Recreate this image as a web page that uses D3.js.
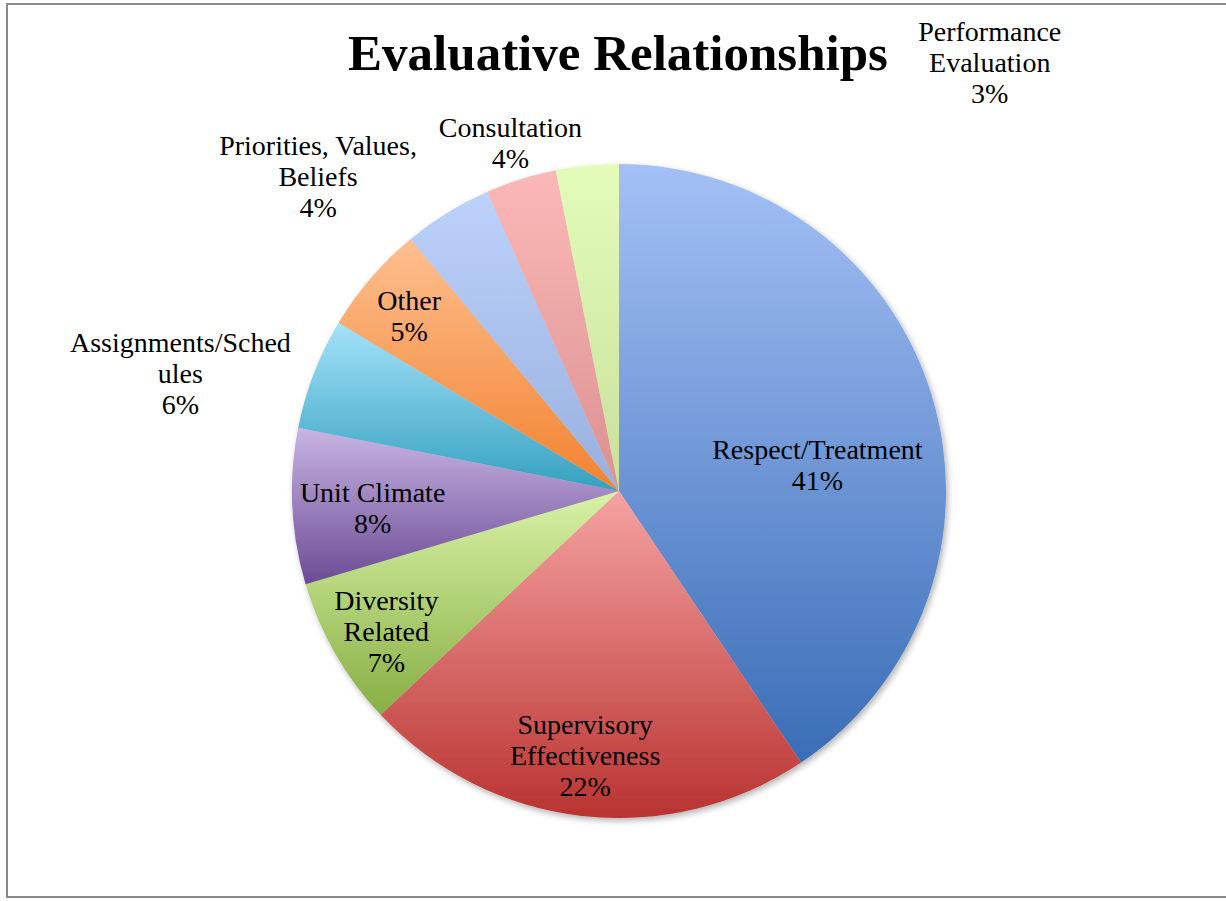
<!DOCTYPE html>
<html>
<head>
<meta charset="utf-8">
<script src="https://cdn.jsdelivr.net/npm/d3@7"></script>
<style>
  html, body { margin: 0; padding: 0; background: #ffffff; }
  svg { display: block; }
</style>
</head>
<body>
<svg id="chart" width="1226" height="901"></svg>
<script>
// Share of evaluative-relationship concerns, clockwise from 12 o'clock
const categories = [
  "Respect/Treatment", "Supervisory Effectiveness", "Diversity Related",
  "Unit Climate", "Assignments/Schedules", "Other",
  "Priorities, Values, Beliefs", "Consultation", "Performance Evaluation"
];
const values = [40.6, 22.4, 7.4, 7.7, 5.5, 5.4, 4.4, 3.5, 3.1];

// Label text as wrapped in the chart
const labelLines = [
  ["Respect/Treatment"], ["Supervisory", "Effectiveness"], ["Diversity", "Related"],
  ["Unit Climate"], ["Assignments/Sched", "ules"], ["Other"],
  ["Priorities, Values,", "Beliefs"], ["Consultation"], ["Performance", "Evaluation"]
];

// Slice gradients: light top colour, dark bottom colour
const topColors = ["#a4c0f6", "#f5a3a2", "#d8f2a6", "#c9b5e4", "#a4e2fa", "#fdbf90", "#bcd2fb", "#fbb8b8", "#e4fcb9"];
const bottomColors = ["#3a6db6", "#b93331", "#88ae44", "#6b4b94", "#34a0bf", "#f2822e", "#98b0de", "#dc9090", "#c8e09c"];

// Label placement around each slice: [distance from centre, angle offset in degrees]
const labelPolar = [[200, 9.6], [267, 0.8], [272, -1.3], [247, -1.3], [454, -6.1], [273, -0.9], [435, -12.1], [364, 0.1], [566, 46.5]];

const svg = d3.select("#chart");
const cx = 619, cy = 491, radius = 327;
const fontFamily = "'Liberation Serif', 'Times New Roman', serif";

// Chart frame
svg.append("rect")
  .attr("x", 7).attr("y", 4)
  .attr("width", 1240).attr("height", 893)
  .attr("fill", "#ffffff")
  .attr("stroke", "#8a8a8a")
  .attr("stroke-width", 2);

const defs = svg.append("defs");

const shadow = defs.append("filter")
  .attr("id", "pieShadow")
  .attr("x", "-10%").attr("y", "-10%")
  .attr("width", "120%").attr("height", "120%");
shadow.append("feDropShadow")
  .attr("dx", 2).attr("dy", 3)
  .attr("stdDeviation", 3)
  .attr("flood-color", "#000")
  .attr("flood-opacity", 0.3);

values.forEach((v, i) => {
  const g = defs.append("linearGradient")
    .attr("id", "grad" + i)
    .attr("x1", 0).attr("y1", 0).attr("x2", 0).attr("y2", 1);
  g.append("stop").attr("offset", "0%").attr("stop-color", topColors[i]);
  g.append("stop").attr("offset", "100%").attr("stop-color", bottomColors[i]);
});

const pie = d3.pie().sort(null).value(d => d)(values);
const arc = d3.arc().innerRadius(0).outerRadius(radius);

const pieGroup = svg.append("g")
  .attr("transform", `translate(${cx},${cy})`)
  .attr("filter", "url(#pieShadow)");

pieGroup.selectAll("path.slice")
  .data(pie)
  .join("path")
  .attr("class", "slice")
  .attr("d", arc)
  .attr("fill", (d, i) => `url(#grad${i})`);

// Title
svg.append("text")
  .attr("x", 618).attr("y", 70)
  .attr("text-anchor", "middle")
  .attr("font-family", fontFamily)
  .attr("font-weight", "bold")
  .attr("font-size", 51)
  .attr("fill", "#000")
  .text("Evaluative Relationships");

// Data labels
const fmt = d3.format(".0%");
const fontSize = 28, lineH = 31;
const labels = svg.append("g").attr("transform", `translate(${cx},${cy})`);

pie.forEach((d, i) => {
  const mid = (d.startAngle + d.endAngle) / 2 + labelPolar[i][1] * Math.PI / 180;
  const r = labelPolar[i][0];
  const x = r * Math.sin(mid);
  const y = -r * Math.cos(mid);
  const lines = labelLines[i].concat([fmt(values[i] / 100)]);
  const t = labels.append("text")
    .attr("text-anchor", "middle")
    .attr("font-family", fontFamily)
    .attr("font-size", fontSize)
    .attr("fill", "#000");
  lines.forEach((ln, j) => {
    t.append("tspan")
      .attr("x", x)
      .attr("y", y + (j - (lines.length - 1) / 2) * lineH + 9)
      .text(ln);
  });
});
</script>
</body>
</html>
